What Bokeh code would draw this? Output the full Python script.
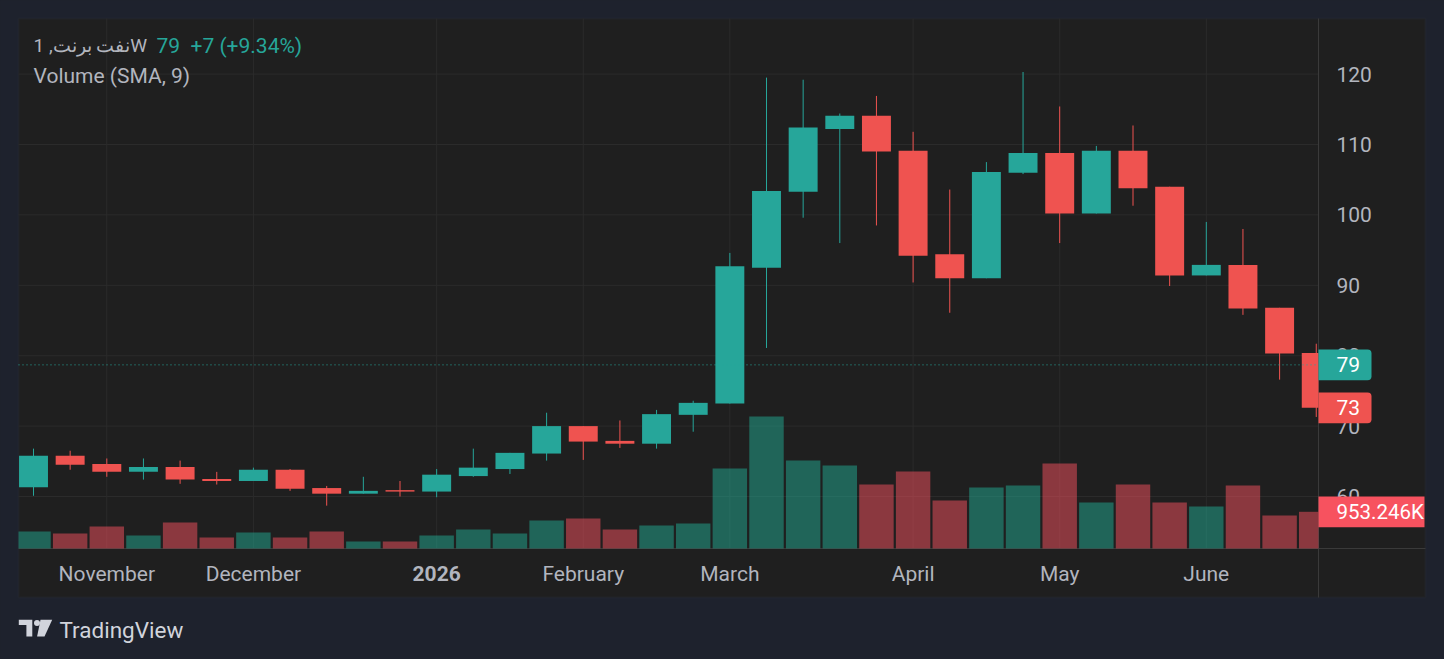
from bokeh.plotting import figure
from bokeh.models import (Range1d, Label, BoxAnnotation, PolyAnnotation,
                          GlobalInlineStyleSheet)
from bokeh.core.properties import value
from bokeh.embed import file_html
from bokeh.resources import INLINE

# ---------------- data ----------------
weeks = ["2025-10-20", "2025-10-27", "2025-11-03", "2025-11-10", "2025-11-17", "2025-11-24",
         "2025-12-01", "2025-12-08", "2025-12-15", "2025-12-22", "2025-12-29", "2026-01-05",
         "2026-01-12", "2026-01-19", "2026-01-26", "2026-02-02", "2026-02-09", "2026-02-16",
         "2026-02-23", "2026-03-02", "2026-03-09", "2026-03-16", "2026-03-23", "2026-03-30",
         "2026-04-06", "2026-04-13", "2026-04-20", "2026-04-27", "2026-05-04", "2026-05-11",
         "2026-05-18", "2026-05-25", "2026-06-01", "2026-06-08", "2026-06-15", "2026-06-22"]
opens = [61.3, 65.8, 64.6, 63.5, 64.2, 62.5, 62.2, 63.8, 61.2, 60.4, 60.9, 60.7,
         62.9, 63.9, 66.1, 70.0, 67.9, 67.5, 71.6, 73.2, 92.5, 103.3, 112.2, 114.1,
         109.1, 94.4, 91.0, 106.0, 108.8, 100.2, 109.1, 104.0, 91.4, 92.9, 86.8, 80.4]
highs = [66.8, 66.5, 65.4, 65.4, 65.1, 63.5, 64.1, 63.9, 61.5, 62.8, 62.2, 63.9,
         66.8, 66.2, 71.9, 70.0, 70.8, 72.3, 73.6, 94.6, 119.5, 119.2, 114.4, 116.9,
         111.8, 103.6, 107.5, 120.3, 115.4, 109.8, 112.7, 104.0, 99.0, 98.0, 86.8, 81.7]
lows = [60.1, 63.8, 62.8, 62.4, 61.8, 61.7, 62.2, 60.8, 58.7, 60.4, 60.0, 59.9,
        62.8, 63.2, 65.1, 65.2, 66.9, 66.8, 69.2, 73.2, 81.1, 99.6, 96.0, 98.5,
        90.4, 86.1, 91.0, 105.8, 96.0, 100.2, 101.3, 89.9, 91.4, 85.8, 76.6, 71.3]
closes = [65.8, 64.5, 63.5, 64.2, 62.4, 62.2, 63.8, 61.1, 60.4, 60.8, 60.7, 63.1,
          64.1, 66.2, 70.0, 67.8, 67.5, 71.7, 73.3, 92.7, 103.4, 112.4, 114.1, 109.0,
          94.2, 91.0, 106.1, 108.8, 100.2, 109.1, 103.8, 91.4, 92.9, 86.7, 80.3, 72.6]
volumes = [441000, 390000, 571000, 338000, 675000, 286000, 416000, 286000, 441000,
           182000, 182000, 338000, 493000, 390000, 727000, 779000, 493000, 597000,
           649000, 2077000, 3428000, 2285000, 2155000, 1662000, 2000000, 1247000,
           1584000, 1636000, 2207000, 1195000, 1662000, 1195000, 1091000, 1636000,
           857000, 953246]
month_ticks = [2, 6, 11, 15, 19, 24, 28, 32]
month_labels = ["November", "December", "2026", "February", "March", "April", "May", "June"]
month_bold = [False, False, True, False, False, False, False, False]
price_ticks = [60, 70, 80, 90, 100, 110, 120]
last_price = 78.7
title_text = "نفت برنت, 1W"
price_text = "79"
change_text = "+7 (+9.34%)"
volume_text = "Volume (SMA, 9)"
close_text = "73"
volume_badge = "953.246K"
brand_text = "TradingView"

# ---------------- layout (pixels) & styles ----------------
W, H = 1444, 659
PL, PR, PT, PB = 18, 1318, 18, 548          # plotting area
PANE_R, PANE_B = 1425, 597                  # outer pane edges
X0, SP = 33.0, 36.65                        # first bar centre, bar spacing (px)
P_REF, P_REF_PX, K = 120.0, 73.6, 7.04      # price scale
VK = 25974.0                                # volume units per px

NAVY = "#1e222d"
PANE = "#1f1f1f"
GRID = "#2b2b2b"
SEP = "#3a3a3a"
BORDER = "#2c303b"
TXT = "#b2b5be"
UP = "#26a69a"
DN = "#ef5350"
VUP = "#22ab94"
VDN = "#f7525f"
FONT_NAME = "Roboto"
FONT = value(FONT_NAME)


def xd(px):
    return (px - X0) / SP


def yd(py):
    return P_REF - (py - P_REF_PX) / K


def vd(py):
    return (PB - py) * VK


idx = list(range(len(opens)))
up = [c >= o for o, c in zip(opens, closes)]
col = [UP if u else DN for u in up]
vcol = [VUP if u else VDN for u in up]
btop = [max(o, c) for o, c in zip(opens, closes)]
bbot = [min(o, c) for o, c in zip(opens, closes)]
BW, VW = 0.79, 0.94
lo_x, hi_x = xd(PL), xd(PR)
b_left = [max(i - BW / 2, lo_x) for i in idx]
b_right = [min(i + BW / 2, hi_x) for i in idx]
v_left = [max(i - VW / 2, lo_x) for i in idx]
v_right = [min(i + VW / 2, hi_x) for i in idx]

p = figure(width=W, height=H, output_backend="svg", toolbar_location=None,
           x_range=Range1d(xd(0), xd(W)), y_range=Range1d(yd(H), yd(0)),
           x_axis_location=None, y_axis_location=None,
           min_border=0, min_border_left=0, min_border_right=0,
           min_border_top=0, min_border_bottom=0,
           background_fill_color=NAVY, border_fill_color=NAVY, outline_line_color=None)
p.stylesheets = [GlobalInlineStyleSheet(css="body{background:%s;}" % NAVY)]
p.extra_y_ranges = {"vol": Range1d(vd(H), vd(0))}
p.xgrid.visible = False
p.ygrid.visible = False

# pane background + border
p.add_layout(BoxAnnotation(left=PL, right=PANE_R, top=H - PT, bottom=H - PANE_B,
                           left_units="screen", right_units="screen",
                           top_units="screen", bottom_units="screen",
                           fill_color=PANE, fill_alpha=1, line_color=BORDER,
                           line_width=2, level="underlay"))

# grid lines
p.segment(x0=[lo_x] * len(price_ticks), x1=[hi_x] * len(price_ticks),
          y0=price_ticks, y1=price_ticks, line_color=GRID, line_width=1)
p.segment(x0=month_ticks, x1=month_ticks, y0=[yd(PT)] * len(month_ticks),
          y1=[yd(PB)] * len(month_ticks), line_color=GRID, line_width=1)

# separators (price scale / time scale)
p.segment(x0=[hi_x, lo_x], x1=[hi_x, xd(PANE_R)], y0=[yd(PT), yd(PB)],
          y1=[yd(PANE_B), yd(PB)], line_color=SEP, line_width=1)

# volume
p.quad(left=v_left, right=v_right, top=volumes, bottom=[0] * len(volumes),
       fill_color=vcol, fill_alpha=0.5, line_color=None, y_range_name="vol")

# candles
p.segment(x0=idx, x1=idx, y0=lows, y1=highs, line_color=col, line_width=1)
p.quad(left=b_left, right=b_right, top=btop, bottom=bbot, fill_color=col, line_color=None)

# last price dotted line
p.segment(x0=[lo_x], x1=[hi_x], y0=[last_price], y1=[last_price],
          line_color=UP, line_dash="1 3", line_width=1)

# price scale labels
p.text(x=[xd(1336)] * len(price_ticks), y=price_ticks, text=[str(t) for t in price_ticks],
       text_font=FONT, text_font_size="21px", text_color=TXT,
       text_align="left", text_baseline="middle")

# time scale labels
norm = [(t, l) for t, l, b in zip(month_ticks, month_labels, month_bold) if not b]
bold = [(t, l) for t, l, b in zip(month_ticks, month_labels, month_bold) if b]
for group, style in ((norm, "normal"), (bold, "bold")):
    p.text(x=[t for t, _ in group], y=[yd(573)] * len(group), text=[l for _, l in group],
           text_font=FONT, text_font_size="21px", text_color=TXT, text_font_style=style,
           text_align="center", text_baseline="middle")

# badges on the price scale
HALF = 15.4
bx0, bx1 = hi_x, xd(1371)
p.quad(left=[bx0, bx0], right=[bx1, bx1],
       top=[last_price + HALF / K, closes[-1] + HALF / K],
       bottom=[last_price - HALF / K, closes[-1] - HALF / K],
       fill_color=[UP, DN], line_color=None, border_radius=(0, 4, 4, 0))
p.quad(left=[bx0], right=[xd(PANE_R - 1)], top=[volumes[-1] + HALF * VK],
       bottom=[volumes[-1] - HALF * VK], fill_color=VDN, line_color=None,
       y_range_name="vol")
p.text(x=[xd(1336)] * 2, y=[last_price, closes[-1]], text=[price_text, close_text],
       text_font=FONT, text_font_size="21px", text_color="white",
       text_align="left", text_baseline="middle")
p.text(x=[xd(1336)], y=[volumes[-1]], text=[volume_badge], y_range_name="vol",
       text_font=FONT, text_font_size="20.5px", text_color="white",
       text_align="left", text_baseline="middle")


# legend texts
def lab(x, y, t, c, size="21px"):
    p.add_layout(Label(x=x, y=H - y, x_units="screen", y_units="screen", text=t,
                       text_font=FONT_NAME, text_font_size=size, text_color=c,
                       text_align="left", text_baseline="middle"))


lab(33, 45, title_text, TXT, "19px")
lab(156, 45, price_text, UP)
lab(190, 45, change_text, UP)
lab(33, 75, volume_text, TXT)

# footer brand
BRAND = "#d1d4dc"
lab(59, 629, brand_text, BRAND, "22.5px")
logo_polys = [
    [(18.3, 619.3), (31.8, 619.3), (31.8, 636), (25.9, 636), (25.9, 624.6), (18.3, 624.6)],
    [(40.0, 619.3), (51.7, 619.3), (44.0, 636), (36.6, 636)],
]
for poly in logo_polys:
    p.add_layout(PolyAnnotation(xs=[a for a, _ in poly], ys=[H - b for _, b in poly],
                                xs_units="screen", ys_units="screen",
                                fill_color=BRAND, fill_alpha=1, line_color=None))
p.add_layout(BoxAnnotation(left=33.5, right=39.5, top=H - 619.5, bottom=H - 625.5,
                           left_units="screen", right_units="screen",
                           top_units="screen", bottom_units="screen",
                           fill_color=BRAND, fill_alpha=1, line_color=None,
                           border_radius=3))

open("out.html", "w").write(file_html(p, INLINE))
